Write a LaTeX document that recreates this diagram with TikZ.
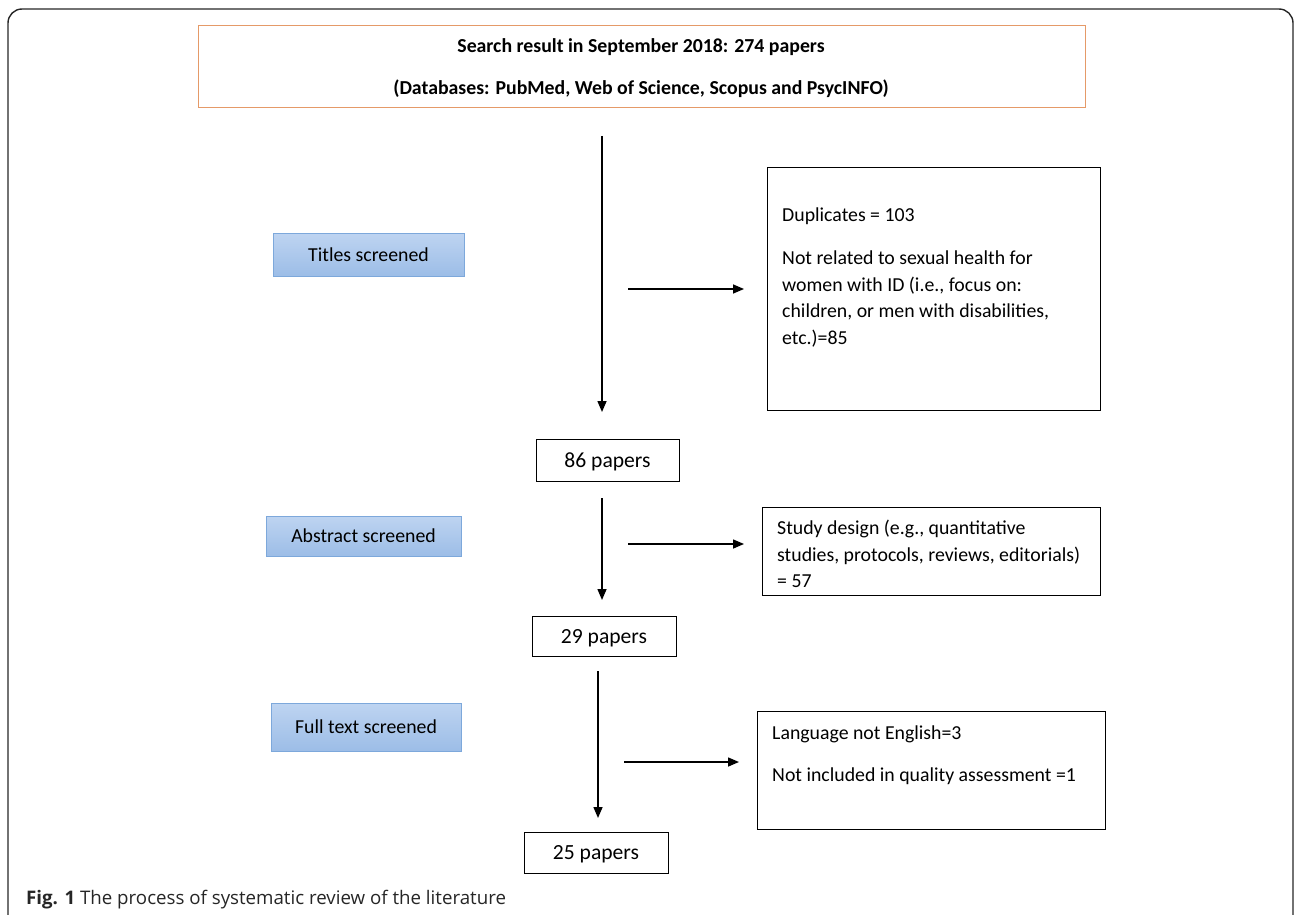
\documentclass[tikz,border=0pt]{standalone}
\usepackage{fontspec}
\setmainfont{Carlito}
\newfontfamily\captionfont{Open Sans}
\usetikzlibrary{positioning,arrows.meta,shadings}
\definecolor{toporange}{HTML}{E59A68}
\definecolor{stepblue}{HTML}{7DA8DB}
\definecolor{steptop}{HTML}{BED4F1}
\definecolor{stepbottom}{HTML}{9CBDE7}
\tikzset{
  stagebox/.style={draw=stepblue,line width=0.8pt,top color=steptop,bottom color=stepbottom,
    minimum height=42pt,inner sep=0pt,font=\fontsize{19.8}{23}\selectfont},
  countbox/.style={draw=black,line width=1pt,minimum width=143pt,minimum height=42pt,
    inner sep=0pt,text depth=0pt,font=\fontsize{21.6}{25}\selectfont},
  reasonbox/.style={draw=black,line width=1pt,inner sep=0pt,anchor=north west},
  reasontext/.style={anchor=north west,align=left,inner sep=0pt,
    font=\fontsize{19.8}{26.5}\selectfont},
  flow/.style={line width=1.5pt,-{Triangle[length=11pt,width=9pt]}}
}
\begin{document}
\begin{tikzpicture}[x=1pt,y=-1pt]
\useasboundingbox (0,0) rectangle (1295,915);
% outer frame, open at the bottom
\draw[line width=1.4pt,color=black!85,rounded corners=14pt] (8,917) -- (8,9) -- (1293,9) -- (1293,917);
% search result
\node[draw=toporange,line width=0.8pt,anchor=north west,minimum width=887pt,minimum height=82pt,
  inner sep=0pt] (search) at (198,25) {};
\node[font=\bfseries\fontsize{19.8}{23}\selectfont] (searchA) at (641,47.5) {Search result in September 2018: 274 papers};
\node[font=\bfseries\fontsize{19.8}{23}\selectfont] (searchB) at (641,89) {(Databases: PubMed, Web of Science, Scopus and PsycINFO)};
% stage labels
\node[stagebox,minimum width=191pt,minimum height=43pt] (titles) at (368.5,254.5) {Titles screened};
\node[stagebox,minimum width=195pt,minimum height=40pt] (abstract) at (363.5,536) {Abstract screened};
\node[stagebox,minimum width=190pt,minimum height=48pt] (fulltext) at (366,727) {Full text screened};
% paper counts
\node[countbox] (n86) at (607.5,460.5) {86 papers};
\node[countbox,minimum width=144pt,minimum height=40pt] (n29) at (604,636) {29 papers};
\node[countbox,minimum width=144pt,minimum height=41pt] (n25) at (596,852.5) {25 papers};
% exclusion boxes
\node[reasonbox,minimum width=333pt,minimum height=243pt] (excl1) at (767,167) {};
\node[reasontext] (excl1a) at (782,208) {Duplicates = 103};
\node[reasontext] (excl1b) at (782,251) {Not related to sexual health for\\women with ID (i.e., focus on:\\children, or men with disabilities,\\etc.)=85};
\node[reasonbox,minimum width=338pt,minimum height=88pt] (excl2) at (762,507) {};
\node[reasontext] (excl2a) at (777,520) {Study design (e.g., quantitative\\studies, protocols, reviews, editorials)\\= 57};
\node[reasonbox,minimum width=348pt,minimum height=118pt] (excl3) at (757,711) {};
\node[reasontext] (excl3a) at (772,725.5) {Language not English=3};
\node[reasontext] (excl3b) at (772,767.5) {Not included in quality assessment =1};
% main flow
\coordinate (s1) at (602,136);
\coordinate (e1) at (602,412);
\draw[flow] (s1) -- (e1);
\coordinate (s2) at (602,498);
\coordinate (e2) at (602,600);
\draw[flow] (s2) -- (e2);
\coordinate (s3) at (598,671);
\coordinate (e3) at (598,818);
\draw[flow] (s3) -- (e3);
% side arrows
\coordinate (h1) at (628,289);
\coordinate (k1) at (744,289);
\draw[flow] (h1) -- (k1);
\coordinate (h2) at (628,544);
\coordinate (k2) at (744,544);
\draw[flow] (h2) -- (k2);
\coordinate (h3) at (624,762);
\coordinate (k3) at (739,762);
\draw[flow] (h3) -- (k3);
% caption
\node[anchor=west,inner sep=0pt,font=\captionfont\fontsize{18.7}{22}\selectfont,color=black!85] (caption) at (26,900)
  {\textbf{Fig. 1} The process of systematic review of the literature};
\end{tikzpicture}
\end{document}
